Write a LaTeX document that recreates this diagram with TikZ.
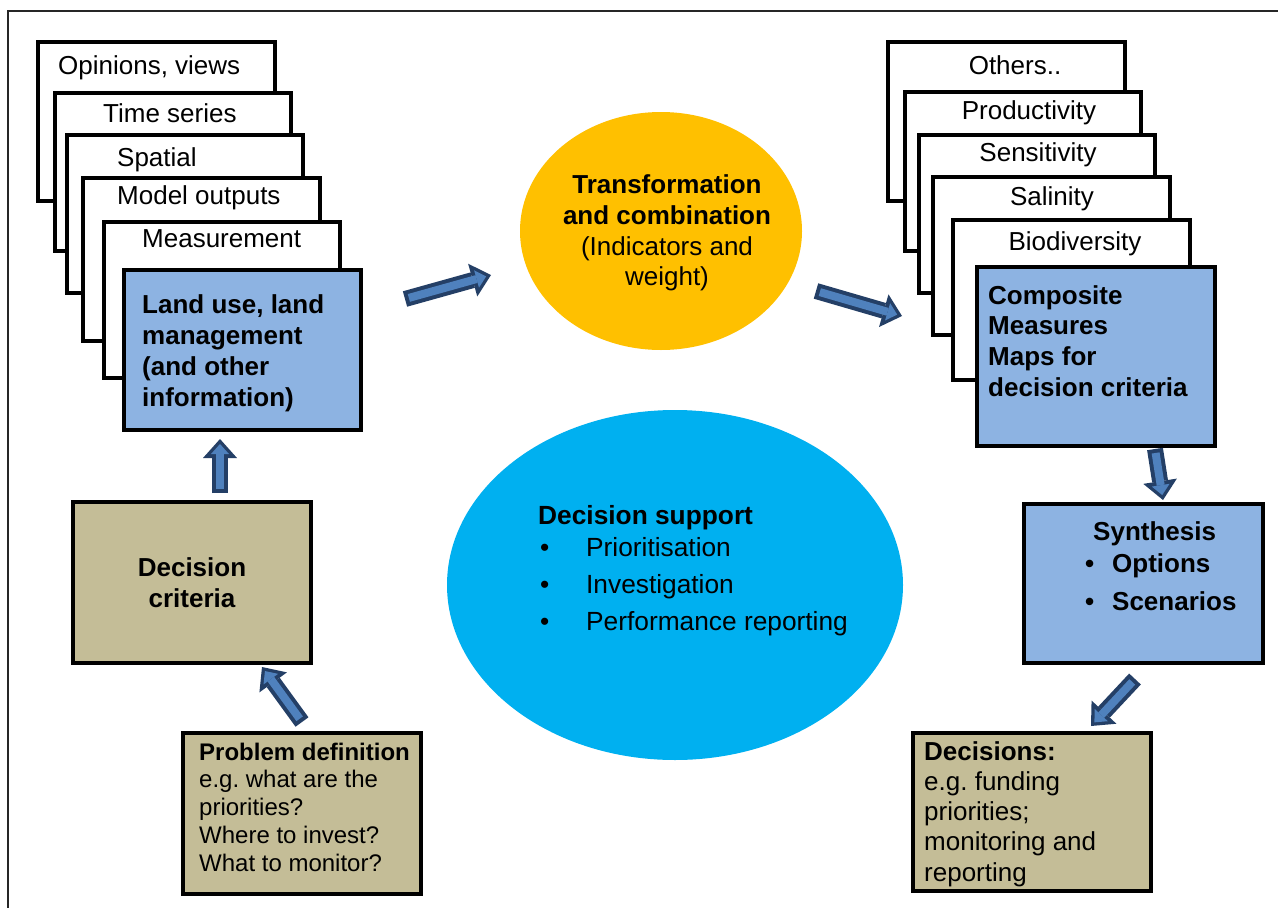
\documentclass[tikz,border=0pt]{standalone}
\usepackage{fontspec}
\setmainfont{Liberation Sans}
\usetikzlibrary{arrows.meta,shapes.geometric}
\definecolor{boxblue}{HTML}{8DB3E2}
\definecolor{tanbox}{HTML}{C4BD97}
\definecolor{orng}{HTML}{FFC000}
\definecolor{cyanb}{HTML}{00B0F0}
\definecolor{arrdark}{HTML}{243F66}
\definecolor{arrlight}{HTML}{4F81BD}
\newcommand{\fbig}{\fontsize{26}{31}\selectfont}
\newcommand{\fsmall}{\fontsize{24}{27.75}\selectfont}
\frenchspacing
\tikzset{
  stackbox/.style={draw=black, line width=4pt, fill=white, rectangle, anchor=north west, inner sep=0pt},
  bluebox/.style={stackbox, fill=boxblue},
  tanrect/.style={stackbox, fill=tanbox},
  lbl/.style={font=\fbig, inner sep=0pt, text=black},
  blockout/.style={line width=16pt, draw=arrdark, -{Triangle[width=34pt,length=19pt,line width=0pt]}},
  blockin/.style={line width=8pt, draw=arrlight, shorten <=4pt, shorten >=5pt, -{Triangle[width=18pt,length=10pt,line width=0pt]}},
  frame/.style={draw=black!85, line width=2pt}
}
\begin{document}
\begin{tikzpicture}[x=1pt,y=-1pt]
\useasboundingbox (0,0) rectangle (1278,908);
\fill[white] (0,0) rectangle (1278,908);
\draw[frame] (8,11) rectangle (1300,930);

% left stack
\node[stackbox, minimum width=237pt, minimum height=159pt] (l1) at (36,40) {};
\node[lbl, anchor=base west] (t1) at (58,74) {Opinions, views};
\node[stackbox, minimum width=236pt, minimum height=158pt] (l2) at (53,91) {};
\node[lbl, anchor=base west] (t2) at (103,122) {Time series};
\node[stackbox, minimum width=236pt, minimum height=158pt] (l3) at (65,133) {};
\node[lbl, anchor=base west] (t3) at (117,166) {Spatial};
\node[stackbox, minimum width=237pt, minimum height=163pt] (l4) at (81,176) {};
\node[lbl, anchor=base west] (t4) at (117,204) {Model outputs};
\node[stackbox, minimum width=236pt, minimum height=156pt] (l5) at (102,220) {};
\node[lbl, anchor=base west] (t5) at (142,247) {Measurement};
\node[bluebox, minimum width=237pt, minimum height=160pt] (l6) at (122,268) {};
\node[lbl, anchor=west, align=left, font=\fbig\bfseries] (t6) at (142,353)
  {Land use, land\\management\\(and other\\information)};

% right stack
\node[stackbox, minimum width=237pt, minimum height=159pt] (r1) at (886,40) {};
\node[lbl, anchor=base] (u1) at (1015,74) {Others..};
\node[stackbox, minimum width=236pt, minimum height=159pt] (r2) at (903,90) {};
\node[lbl, anchor=base] (u2) at (1029,119) {Productivity};
\node[stackbox, minimum width=236pt, minimum height=158pt] (r3) at (917,133) {};
\node[lbl, anchor=base] (u3) at (1038,161) {Sensitivity};
\node[stackbox, minimum width=237pt, minimum height=158pt] (r4) at (931,175) {};
\node[lbl, anchor=base] (u4) at (1052,205) {Salinity};
\node[stackbox, minimum width=237pt, minimum height=160pt] (r5) at (951,218) {};
\node[lbl, anchor=base] (u5) at (1075,250) {Biodiversity};
\node[bluebox, minimum width=238pt, minimum height=179pt] (r6) at (975,265) {};
\node[lbl, anchor=west, align=left, font=\fontsize{26}{30.7}\selectfont\bfseries] (u6) at (988,341)
  {Composite\\Measures\\Maps for\\decision criteria};

% ellipses
\node[ellipse, fill=orng, minimum width=282pt, minimum height=238pt, inner sep=0pt] (tr) at (661,231) {};
\node[lbl, align=center, font=\fontsize{26}{30.7}\selectfont] (trt) at (667,233)
  {\textbf{Transformation}\\\textbf{and combination}\\(Indicators and\\weight)};
\node[ellipse, fill=cyanb, minimum width=456pt, minimum height=350pt, inner sep=0pt] (ds) at (675,585) {};
\node[lbl, anchor=west, align=left, font=\fontsize{26.3}{37}\selectfont] (dst) at (538,571)
  {\textbf{Decision support}\\[-5pt]
   \hspace*{2pt}\makebox[46pt][l]{\textbullet}Prioritisation\\
   \hspace*{2pt}\makebox[46pt][l]{\textbullet}Investigation\\
   \hspace*{2pt}\makebox[46pt][l]{\textbullet}Performance reporting};

% lower boxes
\node[tanrect, minimum width=238pt, minimum height=161pt, align=center, font=\fbig\bfseries] (dc) at (71,500) {Decision\\criteria};
\node[bluebox, minimum width=239pt, minimum height=159pt] (syn) at (1022,502) {};
\node[lbl, anchor=west, align=left, font=\fontsize{26}{38}\selectfont\bfseries] (synt) at (1085,566)
  {\hspace*{8pt}Synthesis\\[-6pt]\makebox[27pt][l]{\textbullet}Options\\\makebox[27pt][l]{\textbullet}Scenarios};
\node[tanrect, minimum width=238pt, minimum height=161pt] (pd) at (181,731) {};
\node[lbl, anchor=west, align=left, font=\fsmall] (pdt) at (199,807)
  {\textbf{Problem definition}\\e.g. what are the\\priorities?\\Where to invest?\\What to monitor?};
\node[tanrect, minimum width=238pt, minimum height=158pt] (dec) at (911,731) {};
\node[lbl, anchor=west, align=left, font=\fontsize{26}{30.25}\selectfont] (dect) at (924,814)
  {\textbf{Decisions:}\\e.g. funding\\priorities;\\monitoring and\\reporting};

% block arrows
\coordinate (a1s) at (405,299); \coordinate (a1e) at (491,275);
\coordinate (a2s) at (816,291); \coordinate (a2e) at (902,316);
\coordinate (a3s) at (220,493); \coordinate (a3e) at (220,439);
\coordinate (a4s) at (302,722); \coordinate (a4e) at (262,667);
\coordinate (a5s) at (1155,449); \coordinate (a5e) at (1163,500);
\coordinate (a6s) at (1135,679); \coordinate (a6e) at (1091,726);
\foreach \s/\e in {a1s/a1e,a2s/a2e,a3s/a3e,a4s/a4e,a5s/a5e,a6s/a6e}{
  \draw[blockout] (\s) -- (\e);
  \draw[blockin] (\s) -- (\e);
}
\end{tikzpicture}
\end{document}
